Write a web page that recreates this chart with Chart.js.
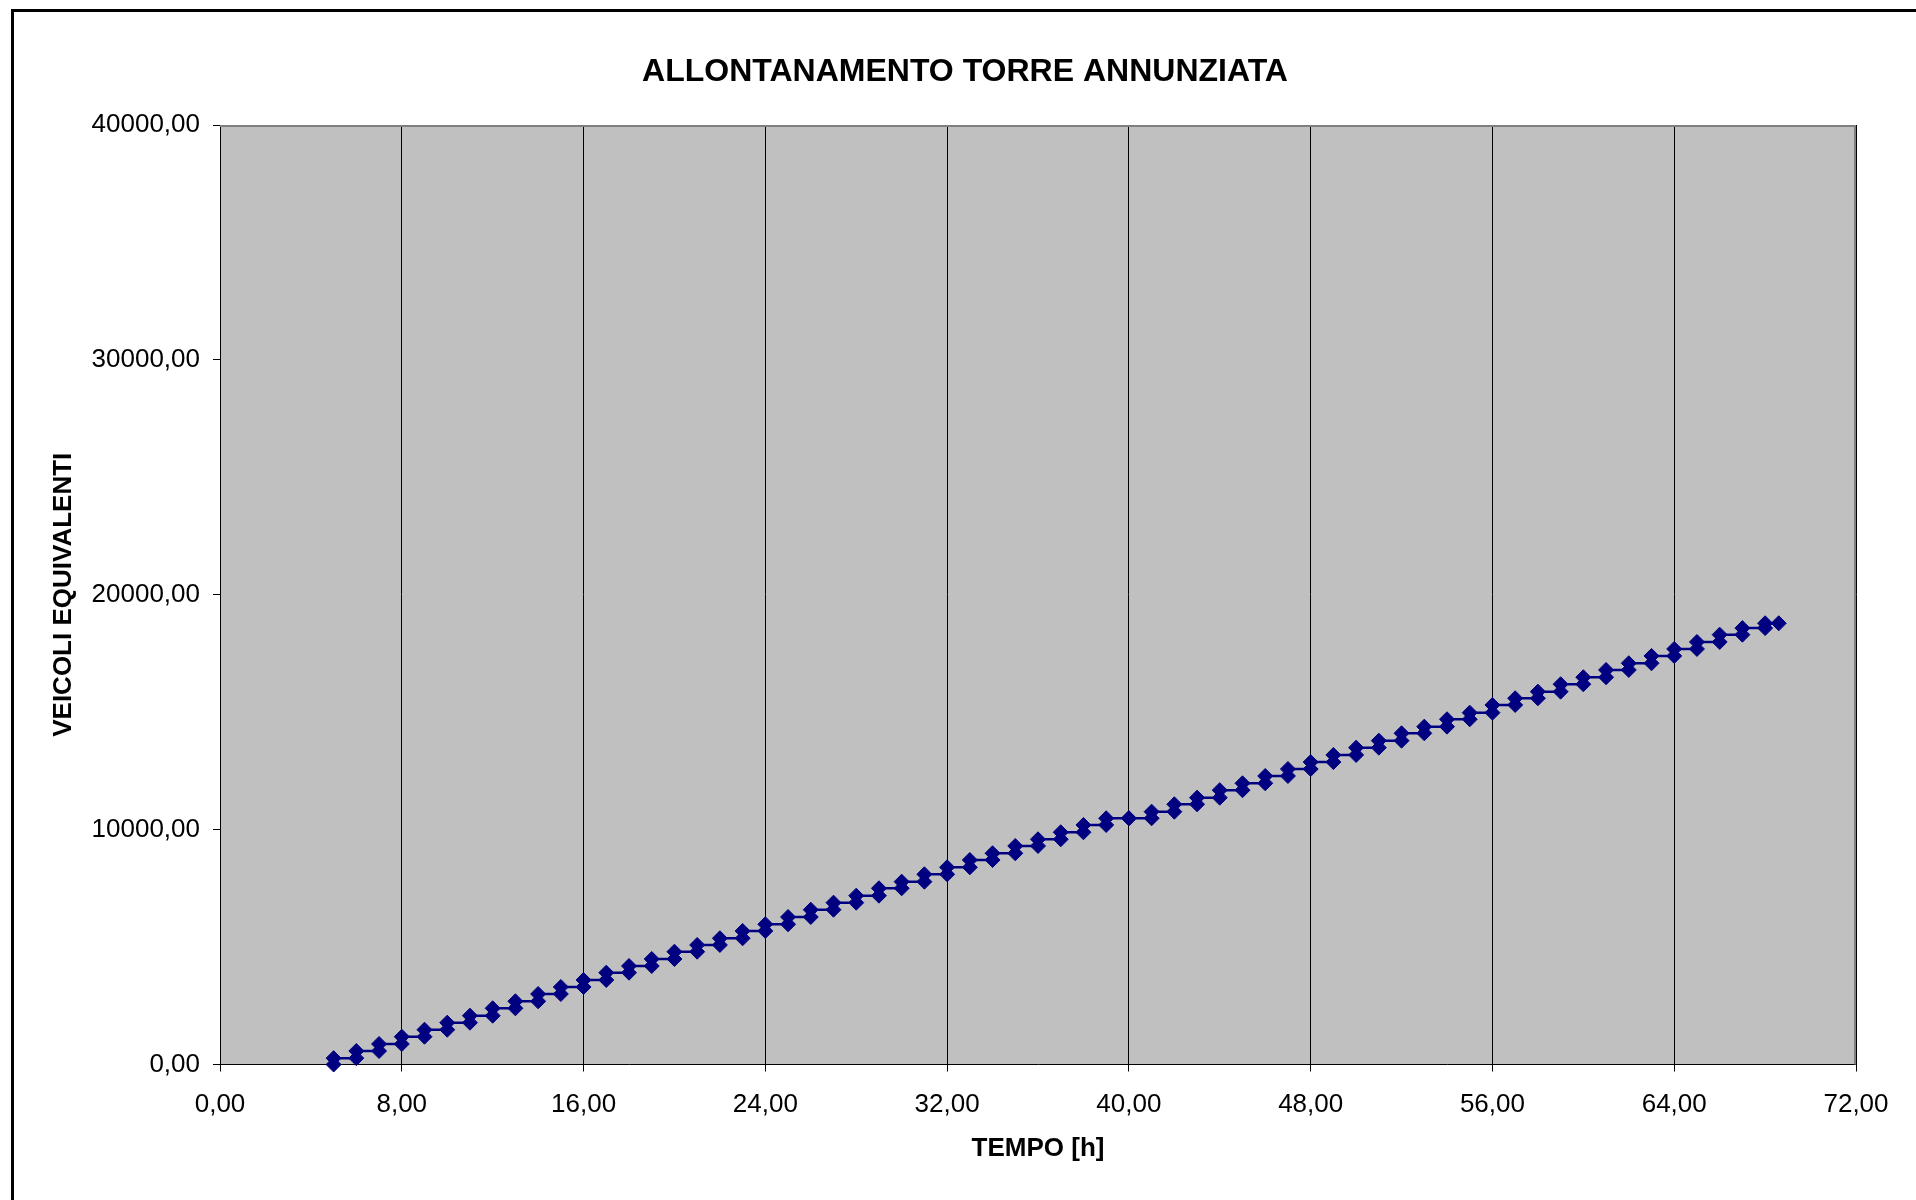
<!DOCTYPE html>
<html>
<head>
<meta charset="utf-8">
<title>Allontanamento Torre Annunziata</title>
<script src="https://cdn.jsdelivr.net/npm/chart.js@4.4.1/dist/chart.umd.min.js"></script>
<style>
  html, body { margin: 0; padding: 0; background: #fff; }
  #wrap { width: 1916px; height: 1200px; }
</style>
</head>
<body>
<div id="wrap"><canvas id="chartCanvas" width="1916" height="1200"></canvas></div>
<script>
// ore (inizio di ogni gradino) e veicoli cumulati dopo ogni ora
const hours = [5,6,7,8,9,10,11,12,13,14,15,16,17,18,19,20,21,22,23,24,
  25,26,27,28,29,30,31,32,33,34,35,36,37,38,39,40,41,42,43,44,45,46,
  47,48,49,50,51,52,53,54,55,56,57,58,59,60,61,62,63,64,65,66,67,68];
const veicoli = [270,575,873,1184,1482,1780,2078,2393,2691,3002,3300,3598,3909,4194,4492,4803,5088,5374,5685,5970,
  6280,6590,6890,7188,7503,7784,8098,8397,8708,8993,9304,9589,9887,10198,10483,10483,10764,11079,11360,11680,11973,12284,
  12580,12875,13179,13490,13788,14101,14384,14699,14980,15308,15593,15875,16190,16488,16798,17083,17394,17692,17990,18300,18580,18786];
const endHour = 68.6;
const xTicks = [0,8,16,24,32,40,48,56,64,72];
const yTicks = [0,10000,20000,30000,40000];

const FONT = "'Liberation Sans', Arial, sans-serif";
const fmt = v => Number(v).toFixed(2).replace('.', ',');

// gradini: punto basso e punto alto per ogni ora
const points = [];
let prev = 0;
hours.forEach((h, i) => {
  points.push({x: h, y: prev});
  points.push({x: h, y: veicoli[i]});
  prev = veicoli[i];
});
points.push({x: endHour, y: prev});

const frame = {
  id: 'frame',
  afterLayout(chart){
    // titolo spostato un po' a destra come nell'originale
    const t = chart.titleBlock;
    if(t){ t.left += 37; t.right += 37; }
  },
  beforeDraw(chart){
    const {ctx, chartArea: a} = chart;
    ctx.save();
    ctx.fillStyle = '#fff';
    ctx.fillRect(0, 0, chart.width, chart.height);
    ctx.fillStyle = '#c0c0c0';
    ctx.fillRect(a.left, a.top, a.right - a.left, a.bottom - a.top);
    ctx.restore();
  },
  beforeDatasetsDraw(chart){
    const {ctx, chartArea: a} = chart;
    ctx.save();
    ctx.strokeStyle = '#808080';
    ctx.lineWidth = 2;
    ctx.beginPath();
    ctx.moveTo(a.left, a.top + 1);
    ctx.lineTo(a.right - 1, a.top + 1);
    ctx.lineTo(a.right - 1, a.bottom);
    ctx.stroke();
    ctx.restore();
  },
  afterDraw(chart){
    const ctx = chart.ctx;
    ctx.save();
    ctx.strokeStyle = '#000';
    ctx.lineWidth = 3;
    ctx.strokeRect(12.5, 10.5, chart.width + 20, chart.height + 20);
    ctx.restore();
  }
};

new Chart(document.getElementById('chartCanvas').getContext('2d'), {
  type: 'line',
  data: {
    datasets: [{
      data: points,
      borderColor: '#000080',
      backgroundColor: '#000080',
      borderWidth: 2.5,
      pointStyle: 'rectRot',
      pointRadius: 7.5,
      pointBorderWidth: 1,
      pointBackgroundColor: '#000080',
      pointBorderColor: '#000080',
      fill: false,
      tension: 0,
      clip: false
    }]
  },
  options: {
    responsive: false,
    animation: false,
    events: [],
    layout: { padding: { left: 0, top: 0, right: 60, bottom: 0 } },
    plugins: {
      legend: { display: false },
      tooltip: { enabled: false },
      title: {
        display: true,
        text: 'ALLONTANAMENTO TORRE ANNUNZIATA',
        color: '#000',
        font: { family: FONT, size: 32, weight: 'bold' },
        padding: { top: 52.6, bottom: 34 }
      }
    },
    scales: {
      x: {
        type: 'linear',
        min: 0, max: 72,
        afterBuildTicks: s => { s.ticks = xTicks.map(v => ({value: v})); },
        afterFit: s => { s.height = 135.5; },
        ticks: { color: '#000', font: { family: FONT, size: 26 }, padding: 17.5, maxRotation: 0, callback: fmt },
        grid: { color: '#000', lineWidth: 1, drawOnChartArea: true, drawTicks: true, tickLength: 7 },
        border: { display: true, color: '#000', width: 1 },
        title: {
          display: true, text: 'TEMPO [h]', color: '#000',
          font: { family: FONT, size: 26, weight: 'bold' },
          padding: { top: 0, bottom: 35.2 }
        }
      },
      y: {
        min: 0, max: 40000,
        afterBuildTicks: s => { s.ticks = yTicks.map(v => ({value: v})); },
        afterFit: s => { s.width = 220; },
        ticks: { color: '#000', font: { family: FONT, size: 26 }, padding: 13, callback: fmt },
        grid: { color: '#000', lineWidth: 1, drawOnChartArea: false, drawTicks: true, tickLength: 7 },
        border: { display: true, color: '#000', width: 1 },
        title: {
          display: true, text: 'VEICOLI EQUIVALENTI', color: '#000',
          font: { family: FONT, size: 26, weight: 'bold' },
          padding: { top: 48.4, bottom: 0 }
        }
      }
    }
  },
  plugins: [frame]
});
</script>
</body>
</html>
